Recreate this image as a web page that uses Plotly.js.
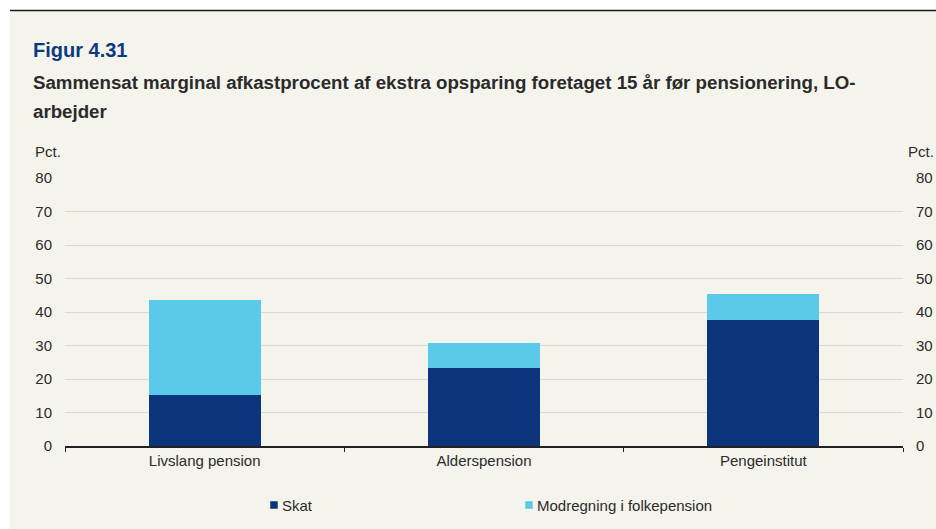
<!DOCTYPE html>
<html>
<head>
<meta charset="utf-8">
<script src="https://cdn.plot.ly/plotly-3.0.1.min.js"></script>
<style>
html,body{margin:0;padding:0;background:#ffffff;}
#chart{width:936px;height:529px;}
</style>
</head>
<body>
<div id="chart"></div>
<script>
const categories = ["Livslang pension", "Alderspension", "Pengeinstitut"];
const skat = [15.3, 23.4, 37.6];
const modregning = [28.4, 7.3, 7.7];
const seriesNames = ["Skat", "Modregning i folkepension"];
const seriesColors = ["#0b347a", "#5bc9ea"];
const yTicks = [0, 10, 20, 30, 40, 50, 60, 70, 80];
const figTitle = "Figur 4.31";
const subtitle1 = "Sammensat marginal afkastprocent af ekstra opsparing foretaget 15 år før pensionering, LO-";
const subtitle2 = "arbejder";
const unitLabel = "Pct.";

// plot area in pixels: x 65..903, y 178..446
const L = 65, R = 903, T = 178, B = 446, W = 936, H = 529;
const px = v => (v - L) / (R - L);
const py = v => (B - v) / (B - T);

const font = "Liberation Sans, Arial, sans-serif";
const txt = "#2b2b2b";

const traces = [
  {type: "bar", x: categories, y: skat, name: seriesNames[0],
   marker: {color: seriesColors[0], line: {width: 0}}, showlegend: false, hoverinfo: "y"},
  {type: "bar", x: categories, y: modregning, name: seriesNames[1],
   marker: {color: seriesColors[1], line: {width: 0}}, showlegend: false, hoverinfo: "y"},
  {type: "scatter", mode: "markers", x: [categories[0]], y: [0], yaxis: "y2",
   marker: {opacity: 0}, showlegend: false, hoverinfo: "skip"}
];

// legend built from the series names and colours
const legendX = [274, 529];   // square centres (px)
const legendY = 505;
const sq = 3.75;
const legendShapes = seriesNames.map((n, i) => ({
  type: "rect", xref: "paper", yref: "paper",
  x0: px(legendX[i] - sq), x1: px(legendX[i] + sq),
  y0: py(legendY + sq), y1: py(legendY - sq),
  fillcolor: seriesColors[i], line: {width: 0}
}));
const legendTexts = seriesNames.map((n, i) => ({
  text: n, xref: "paper", yref: "paper", x: px(legendX[i] + 7), y: py(legendY),
  xanchor: "left", yanchor: "middle", showarrow: false, borderpad: 0,
  font: {family: font, size: 15, color: txt}
}));

const layout = {
  width: W, height: H,
  margin: {l: L, r: W - R, t: T, b: H - B, pad: 0, autoexpand: false},
  paper_bgcolor: "#f4f4ec",
  plot_bgcolor: "rgba(0,0,0,0)",
  barmode: "stack",
  bargap: 0.6,
  font: {family: font, size: 15, color: txt},
  showlegend: false,
  xaxis: {
    type: "category", range: [-0.5, 2.5], fixedrange: true,
    showline: true, linecolor: "#222", linewidth: 1.5,
    ticks: "outside", ticklen: 4, tickcolor: "#222", tickwidth: 1,
    tickson: "boundaries", showgrid: false, zeroline: false,
    tickfont: {family: font, size: 15, color: txt}
  },
  yaxis: {
    range: [0, 80], tickvals: yTicks, fixedrange: true,
    showgrid: true, gridcolor: "#d9d9d6", gridwidth: 1,
    zeroline: false, showline: false, ticks: "",
    ticklabelstandoff: 12,
    tickfont: {family: font, size: 15, color: txt}
  },
  yaxis2: {
    overlaying: "y", side: "right", range: [0, 80], tickvals: yTicks, fixedrange: true,
    showgrid: false, zeroline: false, showline: false, ticks: "",
    ticklabelstandoff: 12,
    tickfont: {family: font, size: 15, color: txt}
  },
  shapes: [
    {type: "rect", xref: "paper", yref: "paper", x0: px(-5), x1: px(10), y0: py(H + 5), y1: py(-5),
     fillcolor: "#ffffff", line: {width: 0}, layer: "below"},
    {type: "rect", xref: "paper", yref: "paper", x0: px(-5), x1: px(W + 5), y0: py(10), y1: py(-5),
     fillcolor: "#ffffff", line: {width: 0}, layer: "below"},
    {type: "line", xref: "paper", yref: "paper", x0: px(10), x1: px(W + 5), y0: py(10.5), y1: py(10.5),
     line: {color: "#1a1a1a", width: 1.5}}
  ].concat(legendShapes),
  annotations: [
    {text: "<b>" + figTitle + "</b>", xref: "paper", yref: "paper", x: px(32), y: py(50),
     xanchor: "left", yanchor: "middle", showarrow: false, borderpad: 0,
     font: {family: font, size: 20, color: "#0b3a82"}},
    {text: "<b>" + subtitle1 + "</b>", xref: "paper", yref: "paper", x: px(32), y: py(83),
     xanchor: "left", yanchor: "middle", showarrow: false, borderpad: 0,
     font: {family: font, size: 18.7, color: "#2b2b2b"}},
    {text: "<b>" + subtitle2 + "</b>", xref: "paper", yref: "paper", x: px(32), y: py(111),
     xanchor: "left", yanchor: "middle", showarrow: false, borderpad: 0,
     font: {family: font, size: 18.7, color: "#2b2b2b"}},
    {text: unitLabel, xref: "paper", yref: "paper", x: px(34), y: py(151),
     xanchor: "left", yanchor: "middle", showarrow: false, borderpad: 0,
     font: {family: font, size: 15, color: txt}},
    {text: unitLabel, xref: "paper", yref: "paper", x: px(907), y: py(151),
     xanchor: "left", yanchor: "middle", showarrow: false, borderpad: 0,
     font: {family: font, size: 15, color: txt}}
  ].concat(legendTexts)
};

Plotly.newPlot("chart", traces, layout, {displayModeBar: false, staticPlot: true});
</script>
</body>
</html>
